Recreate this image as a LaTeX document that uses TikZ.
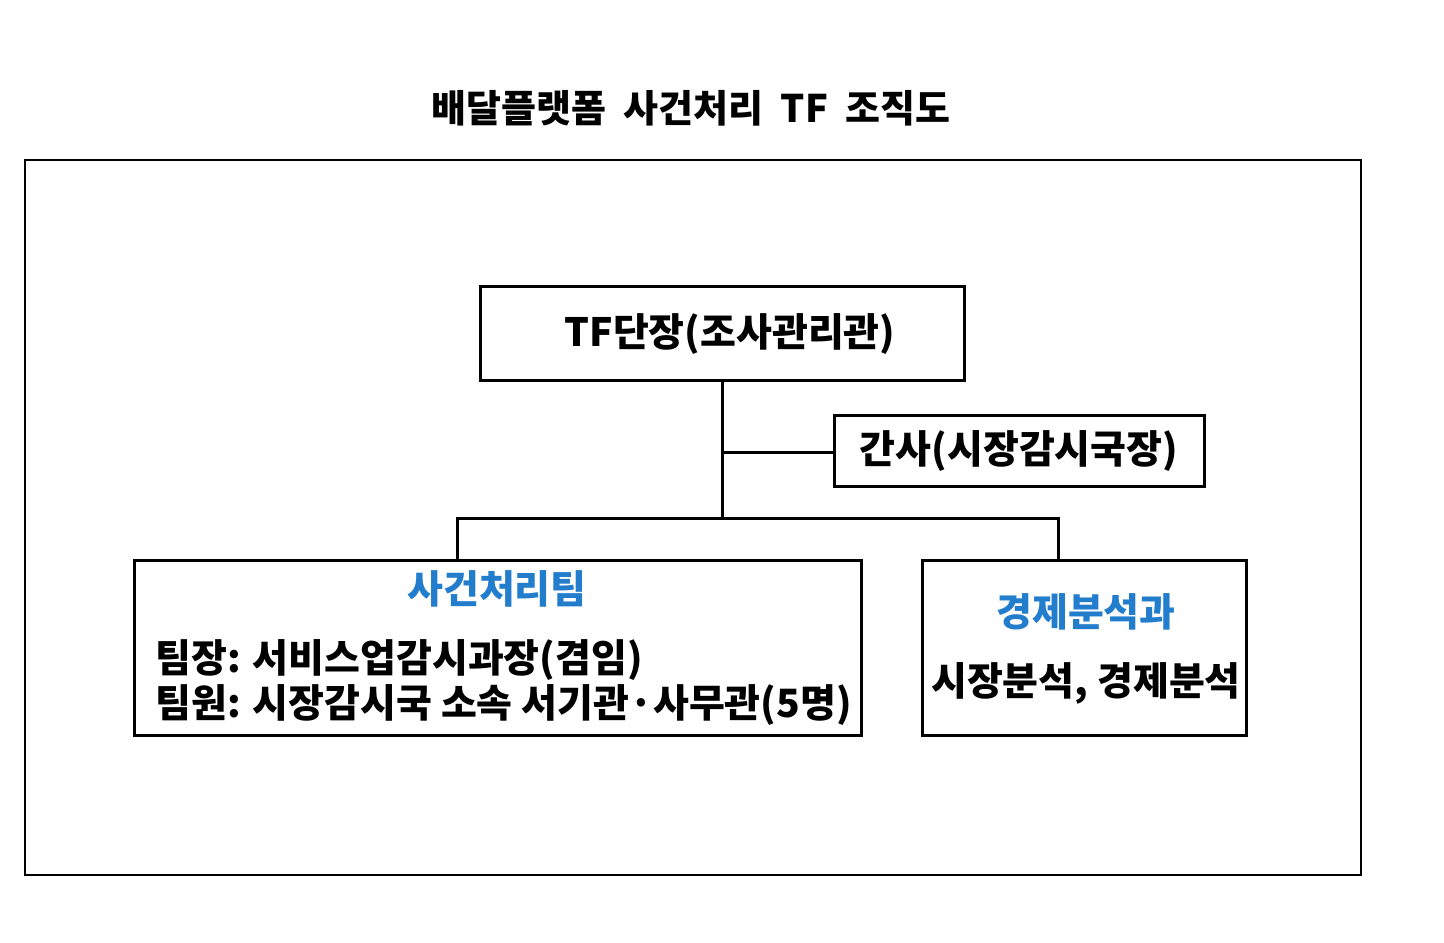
\documentclass[tikz,border=0pt]{standalone}
\usepackage{fontspec}
\setmainfont{Noto Sans CJK KR}
\definecolor{tblue}{RGB}{35,125,205}
\begin{document}
\begin{tikzpicture}[x=0.5pt,y=-0.5pt,
  box/.style={draw,line width=1.5pt},
  ln/.style={line width=1.5pt},
  txt/.style={font=\fontsize{19.5}{23}\selectfont\bfseries,inner sep=0pt}]
\useasboundingbox[fill=white] (0,0) rectangle (1444,942);
\node[font=\fontsize{19}{23}\selectfont\bfseries] (title) at (691,108) {배달플랫폼\ \ 사건처리\ \ TF\ \ 조직도};
\draw[line width=0.8pt] (25,160) rectangle (1361,875);
\draw[box] (480,286) rectangle (964,380);
\node[txt] (tf) at (730,334) {TF단장(조사관리관)};
\draw[box] (834,415) rectangle (1204,486);
\node[txt] (gs) at (1019,451) {간사(시장감시국장)};
\draw[box] (134,560) rectangle (861,735);
\node[txt,text=tblue] (team) at (497,589) {사건처리팀};
\node[txt,anchor=west] (l1) at (155,660) {팀장: 서비스업감시과장(겸임)};
\node[txt,anchor=west] (l2) at (155,705) {팀원: 시장감시국 소속 서기관·사무관(5명)};
\draw[box] (922,560) rectangle (1246,735);
\node[txt,text=tblue] (econ) at (1086,612) {경제분석과};
\node[txt] (e1) at (1086,683) {시장분석, 경제분석};
\coordinate (a) at (722,380);
\coordinate (b) at (722,518);
\coordinate (c) at (722,452);
\coordinate (d) at (834,452);
\coordinate (e) at (457,518);
\coordinate (f) at (1058,518);
\coordinate (g) at (457,560);
\coordinate (h) at (1058,560);
\draw[ln] (a) -- (b);
\draw[ln] (c) -- (d);
\draw[ln] (g) -- (e) -- (f) -- (h);
\end{tikzpicture}
\end{document}
